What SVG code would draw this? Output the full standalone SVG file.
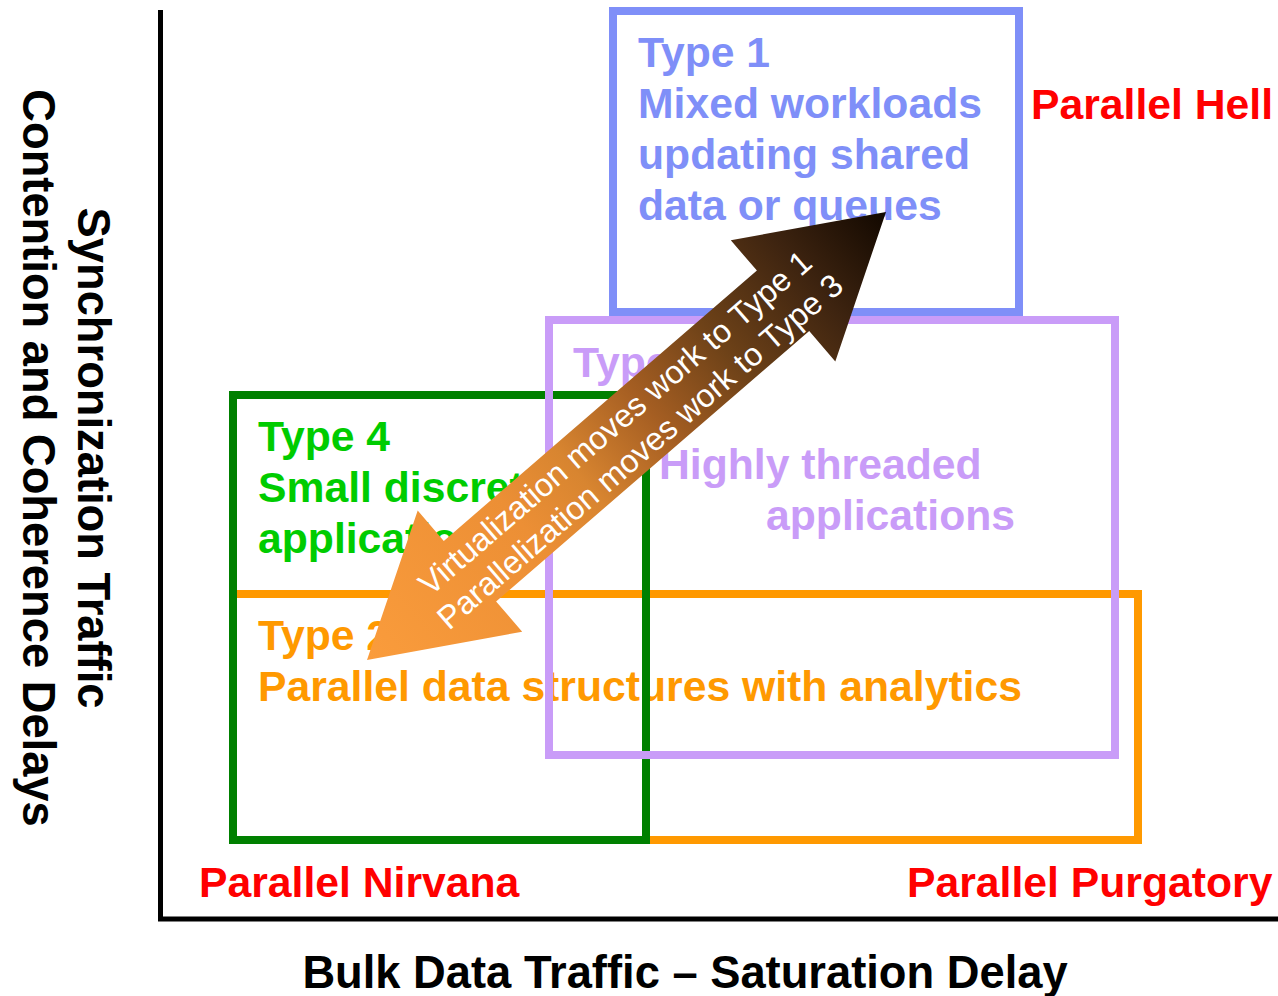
<svg xmlns="http://www.w3.org/2000/svg" width="1278" height="996" viewBox="0 0 1278 996">
<defs>
<style>
text{font-family:"Liberation Sans",Arial,Helvetica,sans-serif;font-weight:bold;font-size:42.7px}
.box{fill:none;stroke-width:8}
.red{fill:#FF0000}
.ax{fill:#000000;font-size:45.3px}
.blue{fill:#7F8FF8}
.purple{fill:#C99CF8}
.green{fill:#00CC00}
.orange{fill:#FF9900}
.arrowtxt{fill:#FFFFFF;font-weight:normal;font-size:32.3px}
</style>
<linearGradient id="arrowGrad" gradientUnits="userSpaceOnUse" x1="367" y1="660" x2="886" y2="212">
<stop offset="0" stop-color="#FA9C3C"/>
<stop offset="0.3" stop-color="#EC8F35"/>
<stop offset="0.41" stop-color="#D88530"/>
<stop offset="0.55" stop-color="#A55E22"/>
<stop offset="0.69" stop-color="#6E4218"/>
<stop offset="0.85" stop-color="#3E2410"/>
<stop offset="1" stop-color="#120800"/>
</linearGradient>
</defs>
<rect width="1278" height="996" fill="#FFFFFF"/>

<g id="axes">
<line x1="160.5" y1="10" x2="160.5" y2="921" stroke="#000" stroke-width="5"/>
<line x1="158" y1="919" x2="1278" y2="919" stroke="#000" stroke-width="5"/>
<text class="ax" transform="translate(78,458) rotate(90)" text-anchor="middle">Synchronization Traffic</text>
<text class="ax" transform="translate(23,458) rotate(90)" text-anchor="middle">Contention and Coherence Delays</text>
<text class="ax" x="685" y="988" text-anchor="middle">Bulk Data Traffic – Saturation Delay</text>
</g>

<g id="corner-labels">
<text class="red" x="1031" y="119">Parallel Hell</text>
<text class="red" x="199" y="897">Parallel Nirvana</text>
<text class="red" x="907" y="897">Parallel Purgatory</text>
</g>

<g id="type2">
<rect class="box" x="233" y="594" width="905" height="246" stroke="#FF9900"/>
<text class="orange" x="258" y="650">Type 2</text>
<text class="orange" x="258" y="701">Parallel data structures with analytics</text>
</g>

<g id="type4">
<rect class="box" x="233" y="395" width="413" height="445" stroke="#008000"/>
<text class="green" x="258" y="451">Type 4</text>
<text class="green" x="258" y="502">Small discrete</text>
<text class="green" x="258" y="553">applications</text>
</g>

<g id="type3">
<rect class="box" x="549" y="320" width="566" height="435" stroke="#C99CF8"/>
<text class="purple" x="573" y="377">Type 3</text>
<text class="purple" x="659" y="479">Highly threaded</text>
<text class="purple" x="766" y="530">applications</text>
</g>

<g id="type1">
<rect class="box" x="613" y="11" width="406" height="301" stroke="#7F8FF8"/>
<text class="blue" x="638" y="67">Type 1</text>
<text class="blue" x="638" y="118">Mixed workloads</text>
<text class="blue" x="638" y="169">updating shared</text>
<text class="blue" x="638" y="220">data or queues</text>
</g>

<g id="connectors">
<polygon fill="url(#arrowGrad)" points="367,660 417.7,510.6 443.8,540.9 756.9,270.6 730.8,240.3 886,212 835.3,361.4 809.2,331.1 496.1,601.4 522.2,631.7"/>
<g transform="translate(626.5,436) rotate(-40.8)">
<text class="arrowtxt" x="0" y="-6.5" text-anchor="middle">Virtualization moves work to Type 1</text>
<text class="arrowtxt" x="0" y="31.5" text-anchor="middle">Parallelization moves work to Type 3</text>
</g>
</g>
</svg>
